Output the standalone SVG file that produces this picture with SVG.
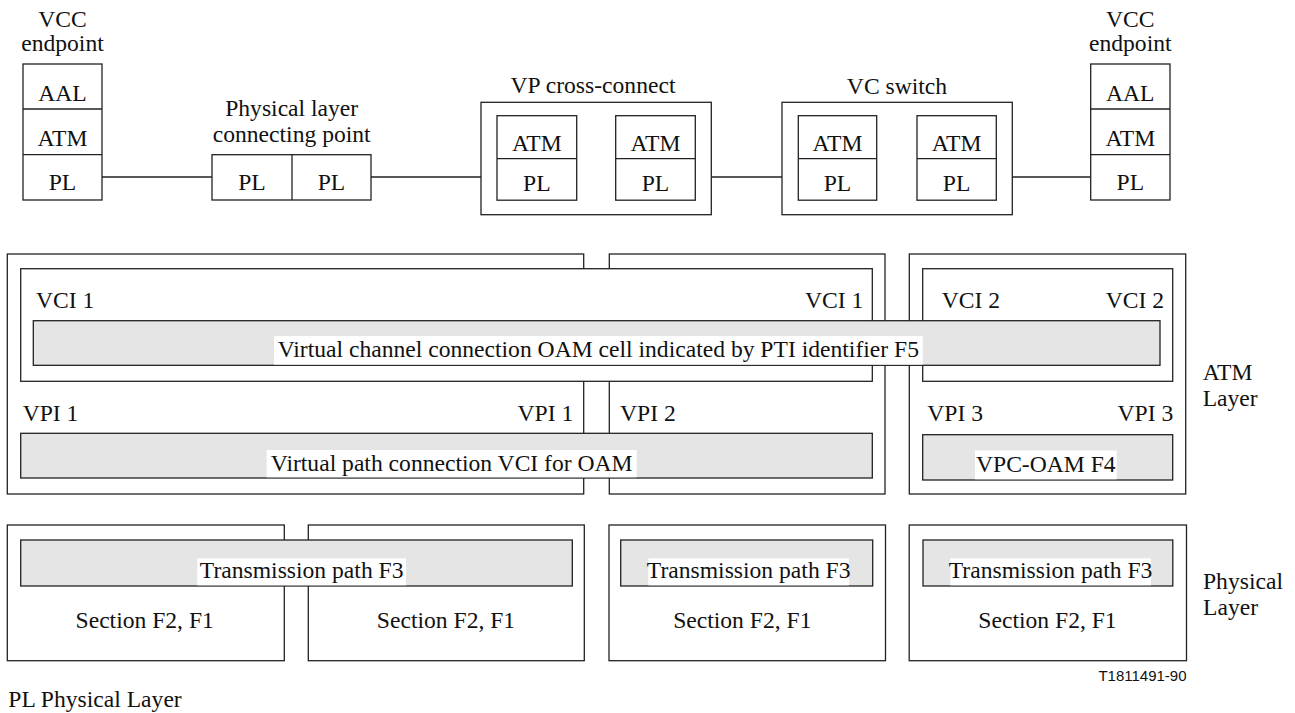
<svg xmlns="http://www.w3.org/2000/svg" width="1295" height="713" viewBox="0 0 1295 713">
<style>
.b{fill:#fff;stroke:#222;stroke-width:1.3}
.g{fill:#e5e5e5;stroke:#222;stroke-width:1.3}
.w{fill:#fff}
.ln{stroke:#222;stroke-width:1.3;fill:none}
.t{font-family:'Liberation Serif','DejaVu Serif','Times New Roman',Times,serif;font-size:23.6px;fill:#111}
.c{text-anchor:middle}
.e{text-anchor:end}
.s{font-family:'Liberation Sans',Arial,sans-serif;font-size:15px;fill:#111}
</style>
<rect width="1295" height="713" fill="#fff"/>

<g id="connectors">
<line class="ln" x1="102" y1="177" x2="212" y2="177"/>
<line class="ln" x1="371" y1="177" x2="481" y2="177"/>
<line class="ln" x1="695.3" y1="177" x2="798.3" y2="177"/>
<line class="ln" x1="996.3" y1="177" x2="1090.7" y2="177"/>
</g>

<g id="vcc-endpoint-left" class="t">
<text class="c" x="62.5" y="26.5">VCC</text>
<text class="c" x="62.5" y="51">endpoint</text>
<rect class="b" x="23" y="64" width="79" height="136"/>
<line class="ln" x1="23" y1="109" x2="102" y2="109"/>
<line class="ln" x1="23" y1="154.7" x2="102" y2="154.7"/>
<text class="c" x="62.5" y="101">AAL</text>
<text class="c" x="62.5" y="146">ATM</text>
<text class="c" x="62.5" y="190">PL</text>
</g>

<g id="pl-connecting-point" class="t">
<text class="c" x="291.7" y="115.5">Physical layer</text>
<text class="c" x="291.7" y="141.5">connecting point</text>
<rect class="b" x="212" y="154.7" width="159" height="45.3"/>
<line class="ln" x1="292" y1="154.7" x2="292" y2="200"/>
<text class="c" x="252" y="190">PL</text>
<text class="c" x="331.5" y="190">PL</text>
</g>

<g id="vp-cross-connect" class="t">
<text class="c" x="593" y="93">VP cross-connect</text>
<rect class="b" x="481" y="102.3" width="230.3" height="112.4"/>
<rect class="b" x="497" y="115.7" width="79.7" height="84.5"/>
<line class="ln" x1="497" y1="158.7" x2="576.7" y2="158.7"/>
<rect class="b" x="615.7" y="115.7" width="79.6" height="84.5"/>
<line class="ln" x1="615.7" y1="158.7" x2="695.3" y2="158.7"/>
<text class="c" x="536.8" y="150.5">ATM</text>
<text class="c" x="536.8" y="190.5">PL</text>
<text class="c" x="655.5" y="150.5">ATM</text>
<text class="c" x="655.5" y="190.5">PL</text>
</g>

<g id="vc-switch" class="t">
<text class="c" x="897" y="94">VC switch</text>
<rect class="b" x="782" y="102.3" width="230.3" height="112.4"/>
<rect class="b" x="798.3" y="115.7" width="78.4" height="84.5"/>
<line class="ln" x1="798.3" y1="158.7" x2="876.7" y2="158.7"/>
<rect class="b" x="917" y="115.7" width="79.3" height="84.5"/>
<line class="ln" x1="917" y1="158.7" x2="996.3" y2="158.7"/>
<text class="c" x="837.5" y="150.5">ATM</text>
<text class="c" x="837.5" y="190.5">PL</text>
<text class="c" x="956.6" y="150.5">ATM</text>
<text class="c" x="956.6" y="190.5">PL</text>
</g>

<g id="vcc-endpoint-right" class="t">
<text class="c" x="1130.3" y="26.5">VCC</text>
<text class="c" x="1130.3" y="51">endpoint</text>
<rect class="b" x="1090.7" y="64" width="79.3" height="136"/>
<line class="ln" x1="1090.7" y1="109" x2="1170" y2="109"/>
<line class="ln" x1="1090.7" y1="154.7" x2="1170" y2="154.7"/>
<text class="c" x="1130.3" y="101">AAL</text>
<text class="c" x="1130.3" y="146">ATM</text>
<text class="c" x="1130.3" y="190">PL</text>
</g>

<g id="atm-layer" class="t">
<rect id="atm-box1" class="b" x="7.3" y="254" width="576.4" height="240"/>
<rect id="atm-box2" class="b" x="609.3" y="254" width="275.7" height="240"/>
<rect id="atm-box3" class="b" x="909.3" y="254" width="276.4" height="240"/>
<rect id="vci1-box" class="b" x="20.7" y="268.7" width="851.6" height="112.6"/>
<rect id="vci2-box" class="b" x="922.7" y="268.7" width="250" height="112.6"/>
<text x="36" y="308.3">VCI 1</text>
<text class="e" x="863.3" y="308.3">VCI 1</text>
<text x="941.7" y="308.3">VCI 2</text>
<text class="e" x="1164" y="308.3">VCI 2</text>
<g id="f5-bar">
<rect class="g" x="33.3" y="320.7" width="1126.7" height="44.6"/>
<rect class="w" x="274" y="336" width="648.7" height="28.6"/>
<text class="c" x="598.3" y="357.3">Virtual channel connection OAM cell indicated by PTI identifier F5</text>
</g>
<text x="22.7" y="420.5">VPI 1</text>
<text class="e" x="573.3" y="420.5">VPI 1</text>
<text x="620" y="420.5">VPI 2</text>
<text x="927.3" y="420.5">VPI 3</text>
<text class="e" x="1173.3" y="420.5">VPI 3</text>
<g id="vp-bar">
<rect class="g" x="20.7" y="433.3" width="851.6" height="44.7"/>
<rect class="w" x="266.7" y="450" width="370" height="27.3"/>
<text class="c" x="451.7" y="470.5">Virtual path connection VCI for OAM</text>
</g>
<g id="vpc-bar">
<rect class="g" x="922.7" y="434.7" width="250" height="45.3"/>
<rect class="w" x="975" y="450.5" width="141.7" height="28.8"/>
<text class="c" x="1045.8" y="472">VPC-OAM F4</text>
</g>
<text x="1202.7" y="380">ATM</text>
<text x="1202.7" y="406">Layer</text>
</g>

<g id="physical-layer" class="t">
<rect id="ph-box1" class="b" x="7.3" y="525" width="277" height="135.7"/>
<rect id="ph-box2" class="b" x="308.3" y="525" width="276" height="135.7"/>
<rect id="ph-box3" class="b" x="609" y="525" width="276.5" height="135.7"/>
<rect id="ph-box4" class="b" x="909.2" y="525" width="277.3" height="135.7"/>
<g id="tp1">
<rect class="g" x="20.7" y="540" width="551.6" height="46"/>
<rect class="w" x="197.3" y="558.3" width="208.7" height="27"/>
<text class="c" x="301.7" y="578.3">Transmission path F3</text>
</g>
<g id="tp3">
<rect class="g" x="620.7" y="540" width="252" height="46"/>
<rect class="w" x="648.4" y="558.3" width="200.6" height="27"/>
<text class="c" x="748.7" y="578.3">Transmission path F3</text>
</g>
<g id="tp4">
<rect class="g" x="923" y="540" width="249.8" height="46"/>
<rect class="w" x="950.3" y="558.3" width="200.6" height="27"/>
<text class="c" x="1050.6" y="578.3">Transmission path F3</text>
</g>
<text class="c" x="144.7" y="628.3">Section F2, F1</text>
<text class="c" x="446" y="628.3">Section F2, F1</text>
<text class="c" x="742.3" y="628.3">Section F2, F1</text>
<text class="c" x="1047.5" y="628.3">Section F2, F1</text>
<text x="1203" y="588.5">Physical</text>
<text x="1203" y="614.5">Layer</text>
</g>

<text class="s e" x="1186.5" y="681">T1811491-90</text>
<text class="t" x="8.3" y="706.7">PL Physical Layer</text>
</svg>
